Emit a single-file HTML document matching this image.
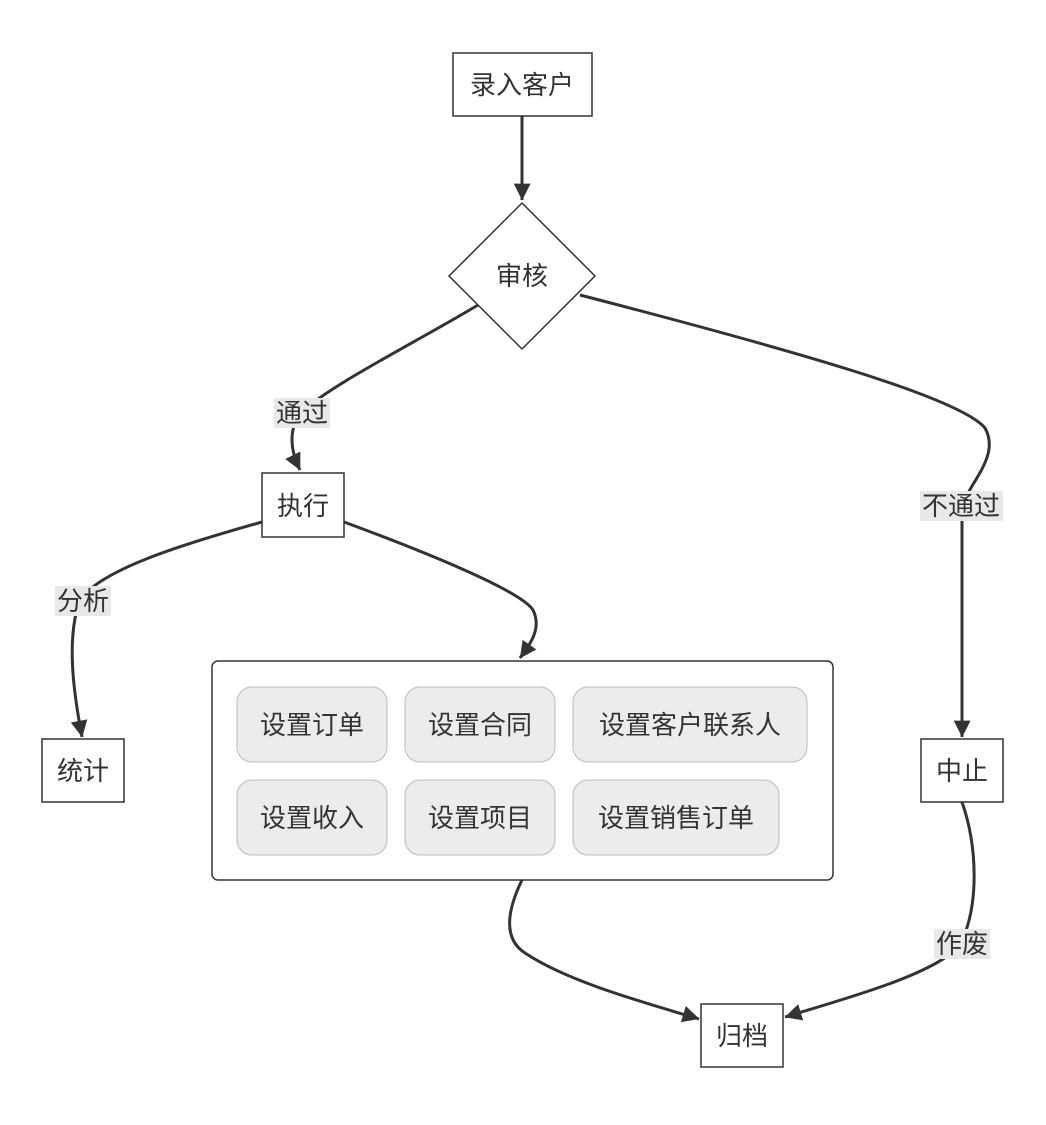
<!DOCTYPE html>
<html><head><meta charset="utf-8"><style>
html,body{margin:0;padding:0;background:#fff;width:1046px;height:1125px;overflow:hidden}
text{font-family:"Liberation Sans","Noto Sans CJK SC",sans-serif;font-size:26px;fill:#333}
</style></head><body>
<svg width="1046" height="1125" viewBox="0 0 1046 1125" xmlns="http://www.w3.org/2000/svg">
<defs>
<marker id="a" viewBox="0 0 10 10" refX="9" refY="5" markerWidth="7" markerHeight="7" markerUnits="userSpaceOnUse" orient="auto" style="overflow:visible">
<path d="M0,0 L10,5 L0,10 z" fill="#333" transform="scale(2.4) translate(-6,-3)"/>
</marker>
</defs>
<g fill="none" stroke="#333" stroke-width="3">
<path d="M522,116 L522,200" marker-end="url(#a)"/>
<path d="M478,305 C420,340 330,385 302,412 C288,428 290,450 300,470" marker-end="url(#a)"/>
<path d="M580,295 C800,352 960,398 985,428 C1000,455 972,480 962,505 L962,737" marker-end="url(#a)"/>
<path d="M262,522 C180,545 100,570 80,600 C65,640 75,700 82,737" marker-end="url(#a)"/>
<path d="M344,522 C420,550 520,590 533,610 C543,630 527,648 520,658" marker-end="url(#a)"/>
<path d="M522,880 C505,915 505,940 525,953 C570,983 650,1004 699,1019" marker-end="url(#a)"/>
<path d="M962,802 C977,845 980,905 960,945 C935,975 840,1000 785,1017" marker-end="url(#a)"/>
</g>
<g fill="#fff" stroke="#333" stroke-width="1.5">
<rect x="453" y="53" width="139" height="63"/>
<polygon points="522,203 595,276 522,349 449,276"/>
<rect x="262" y="473" width="82" height="64"/>
<rect x="42" y="739" width="82" height="63"/>
<rect x="921" y="739" width="82" height="63"/>
<rect x="701" y="1004" width="82" height="63"/>
<rect x="212" y="661" width="621" height="219" rx="6"/>
</g>
<g fill="#ececec" stroke="#bbb" stroke-width="1">
<rect x="237" y="687" width="150" height="75" rx="15"/>
<rect x="405" y="687" width="150" height="75" rx="15"/>
<rect x="573" y="687" width="234" height="75" rx="15"/>
<rect x="237" y="780" width="150" height="75" rx="15"/>
<rect x="405" y="780" width="150" height="75" rx="15"/>
<rect x="573" y="780" width="206" height="75" rx="15"/>
</g>
<g fill="#e8e8e8">
<rect x="274" y="398" width="56" height="30"/>
<rect x="920" y="491" width="83" height="30"/>
<rect x="55" y="586" width="56" height="30"/>
<rect x="934" y="929" width="56" height="30"/>
</g>
<g text-anchor="middle">
<text x="522" y="94">录入客户</text>
<text x="522" y="285">审核</text>
<text x="303" y="515">执行</text>
<text x="83" y="780">统计</text>
<text x="962" y="780">中止</text>
<text x="742" y="1045">归档</text>
<text x="312" y="734">设置订单</text>
<text x="480" y="734">设置合同</text>
<text x="690" y="734">设置客户联系人</text>
<text x="312" y="827">设置收入</text>
<text x="480" y="827">设置项目</text>
<text x="676" y="827">设置销售订单</text>
<text x="302" y="422">通过</text>
<text x="961" y="515">不通过</text>
<text x="83" y="610">分析</text>
<text x="962" y="953">作废</text>
</g>
</svg>
</body></html>
